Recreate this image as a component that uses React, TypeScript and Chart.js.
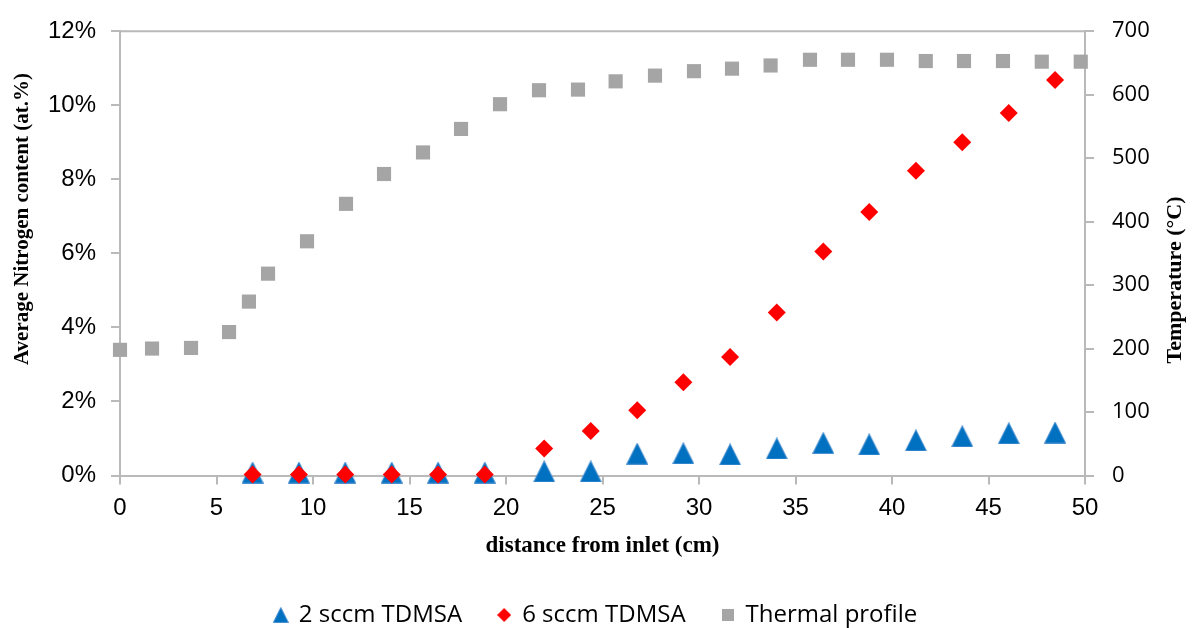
import React, { useEffect, useRef } from 'react';
import { Chart, registerables } from 'chart.js';

Chart.register(...registerables);

// ---- data ----
const distance: number[] = [6.87, 9.27, 11.67, 14.08, 16.48, 18.9, 21.98, 24.39, 26.8, 29.19, 31.61, 34.03, 36.44, 38.82, 41.24, 43.64, 46.05, 48.45];
const sccm2: number[] = [0.08, 0.08, 0.08, 0.08, 0.08, 0.08, 0.11, 0.11, 0.59, 0.6, 0.57, 0.73, 0.88, 0.84, 0.95, 1.06, 1.14, 1.16];
const sccm6: number[] = [0.03, 0.03, 0.03, 0.03, 0.03, 0.03, 0.73, 1.2, 1.76, 2.52, 3.2, 4.4, 6.05, 7.12, 8.23, 9.0, 9.79, 10.68];
const profileDistance: number[] = [0, 1.66, 3.68, 5.65, 6.68, 7.67, 9.69, 11.71, 13.68, 15.7, 17.67, 19.69, 21.71, 23.73, 25.68, 27.72, 29.74, 31.71, 33.71, 35.75, 37.72, 39.74, 41.75, 43.73, 45.75, 47.76, 49.78];
const profileTemp: number[] = [198, 200, 201, 226, 274, 318, 369, 428, 475, 509, 546, 585, 607, 608, 621, 630, 637, 641, 646, 655, 655, 655, 653, 653, 653, 652, 652];

const seriesNames: string[] = ['2 sccm TDMSA', '6 sccm TDMSA', 'Thermal profile'];
const xTitle = 'distance from inlet (cm)';
const leftTitle = 'Average Nitrogen content (at.%)';
const rightTitle = 'Temperature (°C)';

const BLUE = '#0070C0';
const RED = '#FF0000';
const GRAY = '#A5A5A5';
const AXIS = '#B9B9B9';

function makeTriangle(w: number, h: number): HTMLCanvasElement {
  const c = document.createElement('canvas');
  c.width = w;
  c.height = h;
  const g = c.getContext('2d')!;
  g.beginPath();
  g.moveTo(w / 2, 0.5);
  g.lineTo(w - 0.5, h - 0.5);
  g.lineTo(0.5, h - 0.5);
  g.closePath();
  g.fillStyle = BLUE;
  g.fill();
  g.strokeStyle = '#4A8FD0';
  g.lineWidth = 1;
  g.stroke();
  return c;
}

function makeDiamond(s: number): HTMLCanvasElement {
  const c = document.createElement('canvas');
  c.width = s;
  c.height = s;
  const g = c.getContext('2d')!;
  g.beginPath();
  g.moveTo(s / 2, 0);
  g.lineTo(s, s / 2);
  g.lineTo(s / 2, s);
  g.lineTo(0, s / 2);
  g.closePath();
  g.fillStyle = RED;
  g.fill();
  return c;
}

function makeSquare(s: number): HTMLCanvasElement {
  const c = document.createElement('canvas');
  c.width = s;
  c.height = s;
  const g = c.getContext('2d')!;
  g.fillStyle = GRAY;
  g.fillRect(0, 0, s, s);
  return c;
}

const framePlugin = {
  id: 'frameAndTitles',
  beforeDatasetsDraw(chart: any) {
    const { ctx, chartArea } = chart;
    ctx.save();
    ctx.strokeStyle = AXIS;
    ctx.lineWidth = 2;
    ctx.beginPath();
    ctx.moveTo(chartArea.left, chartArea.top);
    ctx.lineTo(chartArea.right, chartArea.top);
    ctx.stroke();
    ctx.restore();

    ctx.save();
    ctx.fillStyle = '#000';
    ctx.font = 'bold 21px "Liberation Serif", "Times New Roman", serif';
    ctx.textAlign = 'center';
    ctx.textBaseline = 'middle';
    ctx.translate(23, 219);
    ctx.rotate(-Math.PI / 2);
    ctx.fillText(leftTitle, 0, 0);
    ctx.restore();

    ctx.save();
    ctx.fillStyle = '#000';
    ctx.font = 'bold 22px "Liberation Serif", "Times New Roman", serif';
    ctx.textAlign = 'center';
    ctx.textBaseline = 'middle';
    ctx.translate(1175, 280);
    ctx.rotate(-Math.PI / 2);
    ctx.fillText(rightTitle, 0, 0);
    ctx.restore();
  },
};

export default function App() {
  const ref = useRef<HTMLCanvasElement>(null);

  useEffect(() => {
    const canvas = ref.current;
    if (!canvas) return;

    const tri = makeTriangle(22, 22);
    const triLegend = makeTriangle(16, 16);
    const diaLegend = makeDiamond(14);
    const sqLegend = makeSquare(12);

    const legendItems = [
      { text: seriesNames[0], pointStyle: triLegend, fillStyle: BLUE, strokeStyle: BLUE, lineWidth: 0, hidden: false, datasetIndex: 0, fontColor: '#000' },
      { text: seriesNames[1], pointStyle: diaLegend, fillStyle: RED, strokeStyle: RED, lineWidth: 0, hidden: false, datasetIndex: 1, fontColor: '#000' },
      { text: seriesNames[2], pointStyle: sqLegend, fillStyle: GRAY, strokeStyle: GRAY, lineWidth: 0, hidden: false, datasetIndex: 2, fontColor: '#000' },
    ];

    const chart = new Chart(canvas, {
      type: 'scatter',
      data: {
        datasets: [
          {
            label: seriesNames[0],
            data: distance.map((x, i) => ({ x, y: sccm2[i] })),
            yAxisID: 'y',
            pointStyle: tri as any,
            pointRadius: 11,
            backgroundColor: BLUE,
            borderWidth: 0,
            order: 2,
            clip: false as any,
          },
          {
            label: seriesNames[1],
            data: distance.map((x, i) => ({ x, y: sccm6[i] })),
            yAxisID: 'y',
            pointStyle: 'rectRot',
            pointRadius: 9,
            backgroundColor: RED,
            borderColor: RED,
            borderWidth: 0,
            order: 1,
            clip: false as any,
          },
          {
            label: seriesNames[2],
            data: profileDistance.map((x, i) => ({ x, y: profileTemp[i] })),
            yAxisID: 'y2',
            pointStyle: 'rect',
            pointRadius: 10,
            backgroundColor: GRAY,
            borderColor: GRAY,
            borderWidth: 0,
            order: 3,
            clip: false as any,
          },
        ],
      },
      options: {
        responsive: false,
        animation: false,
        events: [],
        layout: { padding: { top: 26, bottom: -9, left: 0, right: 0 } },
        plugins: {
          tooltip: { enabled: false },
          legend: {
            position: 'bottom',
            labels: {
              usePointStyle: true,
              boxWidth: 12,
              boxHeight: 14,
              padding: 36,
              color: '#000',
              font: { family: '"Open Sans", sans-serif', size: 24 },
              generateLabels: () => legendItems as any,
            },
          },
        },
        scales: {
          x: {
            type: 'linear',
            min: 0,
            max: 50,
            ticks: {
              stepSize: 5,
              padding: 9,
              color: '#000',
              font: { family: '"Liberation Sans", Arial, sans-serif', size: 24 },
            },
            grid: { drawOnChartArea: false, drawTicks: true, tickLength: 9, color: AXIS, lineWidth: 2 },
            border: { color: AXIS, width: 2 },
            title: {
              display: true,
              text: xTitle,
              color: '#000',
              font: { family: '"Liberation Serif", "Times New Roman", serif', size: 23, weight: 'bold' },
              padding: { top: 0, bottom: 7 },
            },
            afterFit: (s: any) => {
              s.height = 91.5;
            },
          },
          y: {
            type: 'linear',
            position: 'left',
            min: 0,
            max: 12,
            ticks: {
              stepSize: 2,
              padding: 15,
              color: '#000',
              font: { family: '"Liberation Sans", Arial, sans-serif', size: 24 },
              callback: (v: any) => `${v}%`,
            },
            grid: { drawOnChartArea: false, drawTicks: true, tickLength: 9, color: AXIS, lineWidth: 2 },
            border: { color: AXIS, width: 2 },
            afterFit: (s: any) => {
              s.width = 120;
            },
          },
          y2: {
            type: 'linear',
            position: 'right',
            min: 0,
            max: 700,
            ticks: {
              stepSize: 100,
              padding: 18,
              color: '#000',
              font: { family: '"Open Sans", sans-serif', size: 22 },
            },
            grid: { drawOnChartArea: false, drawTicks: true, tickLength: 9, color: AXIS, lineWidth: 2 },
            border: { color: AXIS, width: 2 },
            afterFit: (s: any) => {
              s.width = 107;
            },
          },
        },
      } as any,
      plugins: [framePlugin],
    });

    return () => chart.destroy();
  }, []);

  return (
    <div style={{ position: 'absolute', left: 0, top: 0, width: 1192, height: 628, background: '#fff' }}>
      <canvas ref={ref} width={1192} height={628} style={{ display: 'block' }} />
    </div>
  );
}
